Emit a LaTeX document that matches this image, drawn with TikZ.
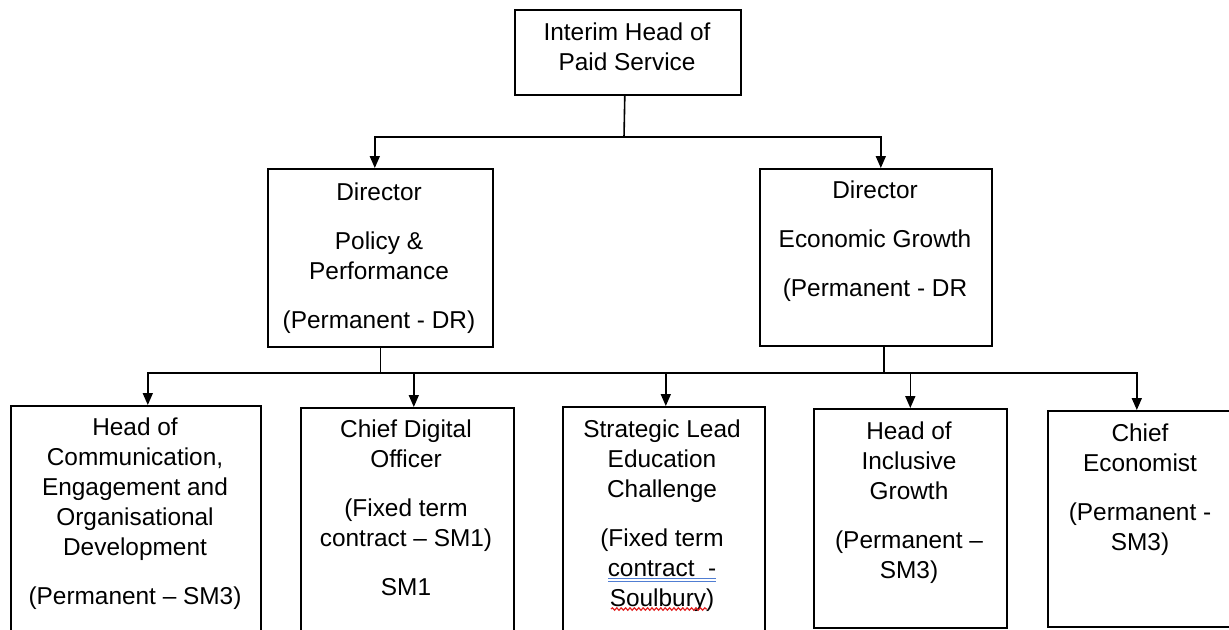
\documentclass[tikz,border=0pt]{standalone}
\usepackage{fontspec}
\setmainfont{Liberation Sans}
\usetikzlibrary{arrows.meta,decorations.pathmorphing}
\definecolor{spellblue}{RGB}{80,125,210}
\definecolor{spellred}{RGB}{225,30,30}
\tikzset{
  box/.style={draw=black, line width=0.8pt, anchor=north west, inner sep=0pt},
  txt/.style={anchor=north, align=center, inner sep=0pt, font=\fontsize{12.2pt}{15pt}\selectfont},
  link/.style={draw=black, line width=0.8pt},
  arr/.style={link, -{Triangle[length=6pt,width=5pt]}},
}
\begin{document}
\begin{tikzpicture}[x=0.5pt,y=-0.5pt]
\clip (0,0) rectangle (1229,629);
\fill[white] (0,0) rectangle (1229,629);
% boxes
\node[box, minimum width=113pt, minimum height=42.5pt] (top) at (514,9) {};
\node[box, minimum width=112.5pt, minimum height=89pt] (dirL) at (267,168) {};
\node[box, minimum width=116pt, minimum height=88.5pt] (dirR) at (759,168) {};
\node[box, minimum width=125pt, minimum height=130pt] (b1) at (10,405) {};
\node[box, minimum width=106.5pt, minimum height=130pt] (b2) at (300,407) {};
\node[box, minimum width=101pt, minimum height=130pt] (b3) at (562,406) {};
\node[box, minimum width=96.5pt, minimum height=109.5pt] (b4) at (813,408) {};
\node[box, minimum width=93pt, minimum height=108pt] (b5) at (1047,410) {};
% texts
\node[txt] (t0) at (627,19.5) {\strut Interim Head of\\Paid Service};
\node[txt] (t1) at (379,179.5) {\strut Director\\[9.5pt]Policy \&\\Performance\\[9.5pt](Permanent - DR)};
\node[txt] (t2) at (875,177.5) {\strut Director\\[9.5pt]Economic Growth\\[9.5pt](Permanent - DR};
\node[txt] (t3) at (135,414.5) {\strut Head of\\Communication,\\Engagement and\\Organisational\\Development\\[9.5pt](Permanent – SM3)};
\node[txt] (t4) at (406,416.5) {\strut Chief Digital\\Officer\\[9.5pt] (Fixed term\\contract – SM1)\\[9.5pt]SM1};
\node[txt] (t5) at (662,416.5) {\strut Strategic Lead\\Education\\Challenge\\[9.5pt](Fixed term\\contract\ \ -\\Soulbury)};
\node[txt] (t6) at (909,418.5) {\strut Head of\\Inclusive\\Growth\\[9.5pt](Permanent –\\SM3)};
\node[txt] (t7) at (1140,420.5) {\strut Chief\\Economist\\[9.5pt](Permanent -\\SM3)};
% spelling marks
\draw[spellblue, line width=0.6pt] (608,578.5) -- (716,578.5) (608,581.5) -- (716,581.5);
\draw[spellred, line width=0.6pt, decorate, decoration={snake, segment length=2.2pt, amplitude=0.6pt}] (611,609) -- (707,609);
% connectors top
\coordinate (jt) at (624,137);
\coordinate (hb) at (0,373);
\draw[link] ([xshift=-1.5pt]top.south) -- (jt);
\draw[arr] (jt) -| ([xshift=-2.75pt]dirL.north);
\draw[arr] (jt) -| ([xshift=2.5pt]dirR.north);
% connectors bottom
\draw[link] (dirL.south) -- (dirL.south |- hb);
\draw[link] ([xshift=4pt]dirR.south) -- ([xshift=4pt]dirR.south |- hb);
\draw[link] ([xshift=6pt]b1.north |- hb) -- ([xshift=-2pt]b5.north |- hb);
\draw[arr] (dirL.south |- hb) -| ([xshift=6pt]b1.north);
\draw[arr] (dirL.south |- hb) -| ([xshift=3.25pt]b2.north);
\draw[arr] ([xshift=4pt]dirR.south |- hb) -| ([xshift=1pt]b3.north);
\draw[arr] ([xshift=4pt]dirR.south |- hb) -| (b4.north);
\draw[arr] ([xshift=4pt]dirR.south |- hb) -| ([xshift=-2pt]b5.north);
\end{tikzpicture}
\end{document}
